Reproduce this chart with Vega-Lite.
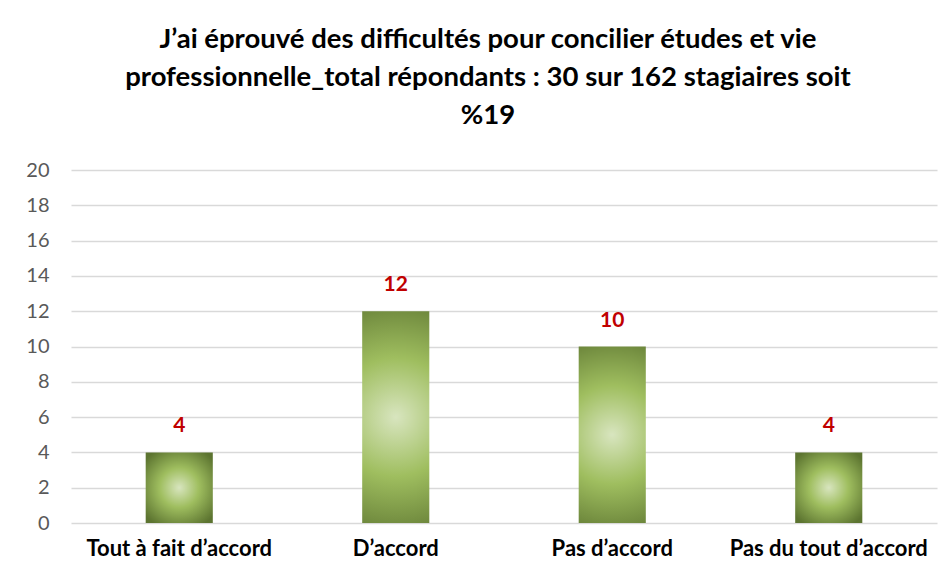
{
  "$schema": "https://vega.github.io/schema/vega-lite/v6.json",
  "width": 866,
  "height": 353,
  "autosize": {"type": "none"},
  "padding": {"left": 71, "top": 170, "right": 14, "bottom": 51},
  "background": "white",
  "config": {"view": {"stroke": null}, "font": "Lato"},
  "title": {
    "text": ["J’ai éprouvé des difficultés pour concilier études et vie", "professionnelle_total répondants : 30 sur 162 stagiaires soit", "%19"],
    "font": "Lato",
    "fontSize": 27.5,
    "fontWeight": "bold",
    "color": "#000000",
    "lineHeight": 38,
    "anchor": "middle",
    "dx": -16,
    "offset": 31
  },
  "data": {
    "values": [
      {"categorie": "Tout à fait d’accord", "valeur": 4},
      {"categorie": "D’accord", "valeur": 12},
      {"categorie": "Pas d’accord", "valeur": 10},
      {"categorie": "Pas du tout d’accord", "valeur": 4}
    ]
  },
  "encoding": {
    "x": {
      "field": "categorie",
      "type": "nominal",
      "sort": null,
      "scale": {"paddingInner": 0, "paddingOuter": 0},
      "axis": {
        "title": null,
        "labelAngle": 0,
        "labelFont": "Lato",
        "labelFontSize": 22,
        "labelFontWeight": "bold",
        "labelColor": "#000000",
        "labelPadding": 15,
        "labelLimit": 400,
        "labelOverlap": false,
        "ticks": false,
        "domain": false,
        "grid": false
      }
    },
    "y": {
      "field": "valeur",
      "type": "quantitative",
      "scale": {"domain": [0, 20]},
      "axis": {
        "title": null,
        "values": [0, 2, 4, 6, 8, 10, 12, 14, 16, 18, 20],
        "labelFont": "Lato",
        "labelFontSize": 20,
        "labelColor": "#595959",
        "labelPadding": 22,
        "ticks": false,
        "domain": false,
        "grid": true,
        "gridColor": "#d9d9d9",
        "gridWidth": 1.5
      }
    }
  },
  "layer": [
    {
      "mark": {
        "type": "bar",
        "width": {"band": 0.31},
        "color": {
          "gradient": "radial",
          "x1": 0.5, "y1": 0.5, "r1": 0,
          "x2": 0.5, "y2": 0.5, "r2": 0.62,
          "stops": [
            {"offset": 0, "color": "#d8e5bf"},
            {"offset": 0.45, "color": "#9fbe5f"},
            {"offset": 1, "color": "#5c7430"}
          ]
        }
      }
    },
    {
      "mark": {
        "type": "text",
        "dy": -16,
        "baseline": "bottom",
        "font": "Lato",
        "fontSize": 21,
        "fontWeight": "bold",
        "color": "#c00000"
      },
      "encoding": {"text": {"field": "valeur", "type": "quantitative"}}
    }
  ]
}
